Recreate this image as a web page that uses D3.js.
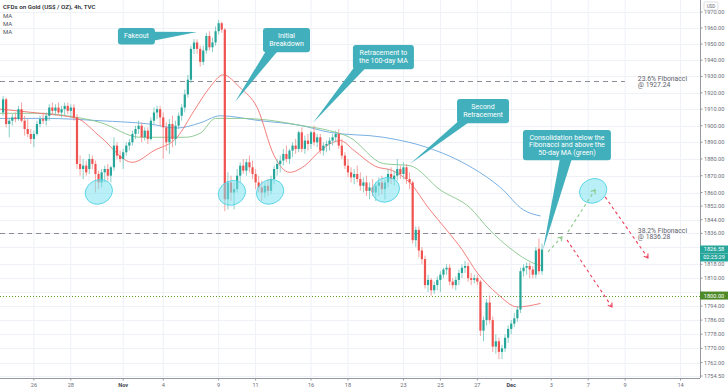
<!DOCTYPE html>
<html>
<head>
<meta charset="utf-8">
<script src="https://cdn.jsdelivr.net/npm/d3@7"></script>
<style>
body { margin: 0; background: #fff; }
svg { display: block; font-family: Roboto, "Liberation Sans", Arial, sans-serif; }
</style>
</head>
<body>
<svg id="chart" width="728" height="391"></svg>
<script>
// 4h candles, [open, high, low, close]
var candles = [
[1908,1918,1906,1916],[1916,1917,1899,1901],[1901,1905,1893,1903],[1903,1907,1900,1905],[1905,1908,1902,1904],
[1904,1912,1903,1910],[1910,1914,1902,1903],[1903,1906,1894,1898],[1898,1904,1893,1895],[1895,1898,1889,1892],
[1892,1897,1887,1895],[1895,1903,1894,1901],[1901,1906,1899,1904],[1904,1908,1901,1903],[1903,1908,1900,1906],
[1906,1913,1903,1911],[1911,1914,1907,1909],[1909,1913,1906,1911],[1911,1914,1907,1908],[1908,1912,1905,1910],
[1910,1914,1906,1912],[1912,1914,1907,1909],[1909,1913,1905,1911],[1911,1913,1903,1905],[1905,1907,1874,1877],
[1877,1882,1870,1874],[1874,1880,1868,1876],[1876,1879,1870,1872],[1874,1883,1871,1880],[1880,1882,1874,1877],
[1877,1879,1860,1871],[1871,1873,1862,1866],[1866,1874,1863,1872],[1872,1876,1866,1874],[1874,1877,1867,1870],
[1870,1876,1866,1875],[1875,1893,1873,1888],[1888,1890,1880,1882],[1882,1885,1878,1880],[1880,1886,1874,1884],
[1884,1890,1882,1888],[1888,1892,1885,1890],[1890,1897,1888,1895],[1895,1900,1892,1898],[1898,1903,1895,1900],
[1900,1902,1890,1893],[1893,1899,1891,1897],[1897,1899,1889,1892],[1892,1905,1891,1903],[1903,1911,1901,1908],
[1908,1912,1904,1910],[1910,1912,1900,1905],[1905,1908,1880,1899],[1899,1902,1885,1890],[1890,1904,1883,1901],
[1901,1906,1887,1892],[1892,1903,1888,1900],[1900,1908,1898,1906],[1906,1913,1903,1911],[1911,1922,1908,1919],
[1919,1931,1917,1928],[1928,1949,1926,1947],[1947,1953,1944,1951],[1951,1953,1944,1947],[1947,1949,1936,1939],
[1939,1949,1937,1946],[1946,1957,1944,1955],[1955,1958,1946,1948],[1948,1954,1945,1951],[1951,1961,1949,1958],
[1958,1965,1956,1963],[1963,1964,1957,1959],[1959,1960,1849,1856],[1856,1872,1850,1866],[1866,1870,1855,1860],
[1860,1866,1850,1862],[1862,1874,1860,1870],[1870,1878,1866,1876],[1876,1880,1871,1873],[1873,1880,1870,1878],
[1878,1882,1872,1875],[1875,1879,1868,1871],[1871,1874,1862,1866],[1866,1870,1860,1863],[1863,1867,1855,1860],
[1860,1866,1857,1864],[1864,1868,1858,1861],[1861,1870,1859,1868],[1868,1876,1865,1874],[1874,1880,1870,1877],
[1877,1882,1872,1879],[1879,1886,1876,1883],[1883,1888,1878,1880],[1880,1886,1877,1885],[1885,1890,1881,1888],
[1888,1892,1883,1886],[1886,1897,1884,1896],[1896,1899,1884,1886],[1886,1894,1883,1891],[1891,1895,1885,1889],
[1889,1897,1886,1896],[1896,1900,1888,1890],[1890,1895,1887,1893],[1893,1895,1883,1885],[1885,1890,1882,1888],
[1888,1891,1884,1889],[1889,1893,1885,1891],[1891,1895,1888,1893],[1893,1897,1890,1895],[1895,1898,1886,1888],
[1888,1892,1880,1882],[1882,1884,1874,1876],[1876,1880,1869,1872],[1872,1875,1866,1869],[1869,1874,1865,1871],
[1871,1876,1866,1868],[1868,1872,1861,1864],[1864,1869,1860,1866],[1866,1870,1858,1861],[1861,1866,1856,1863],
[1863,1868,1858,1860],[1860,1866,1855,1864],[1864,1869,1858,1866],[1866,1870,1859,1862],[1862,1868,1856,1866],
[1866,1874,1863,1871],[1871,1875,1865,1868],[1868,1873,1864,1870],[1870,1880,1867,1874],[1874,1876,1868,1871],
[1871,1878,1868,1875],[1875,1877,1865,1868],[1868,1872,1862,1866],[1866,1867,1830,1832],[1832,1840,1828,1838],
[1838,1840,1822,1826],[1826,1828,1818,1821],[1821,1823,1804,1806],[1806,1812,1802,1809],[1809,1810,1800,1803],
[1803,1808,1801,1806],[1806,1811,1803,1809],[1809,1814,1802,1812],[1812,1816,1810,1815],[1815,1818,1812,1816],
[1816,1818,1806,1808],[1808,1810,1804,1806],[1806,1811,1803,1809],[1809,1815,1806,1813],[1813,1818,1810,1816],
[1816,1820,1813,1817],[1817,1819,1808,1810],[1810,1813,1806,1809],[1809,1812,1807,1810],[1810,1812,1806,1808],
[1808,1809,1777,1780],[1780,1788,1774,1786],[1786,1798,1783,1796],[1796,1800,1784,1786],[1786,1788,1768,1771],
[1771,1778,1767,1774],[1774,1776,1764,1768],[1768,1772,1764,1770],[1770,1778,1768,1776],[1776,1783,1773,1781],
[1781,1786,1778,1784],[1784,1790,1782,1787],[1787,1794,1785,1792],[1792,1816,1790,1814],[1814,1818,1811,1816],
[1816,1819,1812,1817],[1817,1819,1810,1815],[1815,1817,1810,1812],[1812,1828,1810,1826],[1827,1833,1812,1814],
[1814,1830,1812,1826.58]
];

// moving averages, [bar index, price]
var maRed = [[-1,1910],[12,1907.5],[24,1904.4],[31.5,1893.4],[42,1878],[49,1885],[56.5,1893],[62,1909],[67,1923],
  [71.5,1931],[77,1923],[82.5,1911],[88,1882],[93,1872],[98,1876],[103,1885],[109.5,1891],[114,1885],[121,1875.5],
  [126.5,1873],[132,1866],[138.5,1850],[144,1838],[149,1826.6],[154,1813],[160.5,1801],[167,1793.5],[174.5,1795.5]];
var maGreen = [[-1,1907.5],[12,1907.5],[22,1905.6],[31.5,1902],[44.5,1893],[59,1893],[64,1895.4],[69,1904.4],
  [77,1904.4],[87,1903.2],[96.5,1900.2],[106,1897],[112.5,1893],[123.5,1877.2],[132,1876],[142,1861.5],
  [151.6,1851],[158,1838],[164.5,1827.5],[172,1818.8],[175,1817]];
var maBlue = [[-1,1904.4],[14,1904.4],[31.5,1903],[47.5,1901],[56.5,1898.6],[64,1901.7],[70.5,1906],[83.5,1903],
  [96.5,1900.2],[106,1896],[123.5,1893],[137.5,1887],[152.5,1874.5],[161.5,1863],[169,1849.7],[174.5,1846.2]];

var xTickIdx = [10, 22, 39, 52, 70, 82, 100, 112, 130, 142, 154, 165, 178, 190, 202, 220];
var xTickLabels = ["26", "28", "Nov", "4", "9", "11", "16", "18", "23", "25", "27", "Dec", "3", "7", "9", "14"];
var yTicks = [1970, 1960, 1950, 1940, 1930, 1920, 1910, 1900, 1890, 1880, 1870, 1860, 1852, 1844, 1836,
  1828, 1818, 1810, 1802, 1794, 1786, 1778, 1770, 1762, 1754.5];

var fibLevels = [{name: "23.6% Fibonacci", value: 1927.24}, {name: "38.2% Fibonacci", value: 1836.28}];
var fibEnd = 201.9;
var supportLevel = 1800;
var lastPrice = 1826.58;
var countdown = "02:25:29";

var notes = [
  {lines: ["Fakeout"], at: [37.3, 1960], tip: [63, 1957.5], side: "right", pos: 0.5},
  {lines: ["Initial", "Breakdown"], at: [84.4, 1960], tip: [75.3, 1914.4], side: "bottom", pos: 0.2},
  {lines: ["Retracement to", "the 100-day MA"], at: [113.6, 1949.4], tip: [100.6, 1901.6], side: "bottom", pos: 0.12},
  {lines: ["Second", "Retracement"], at: [147.4, 1916.2], tip: [132.1, 1877], side: "bottom", pos: 0.14},
  {lines: ["Consolidation below the", "Fibonacci and above the", "50-day MA (green)"], at: [168.8, 1897.4], tip: [175.3, 1826.3], side: "bottom", pos: 0.49}
];
var circles = [[31.1, 1860.4], [74.3, 1859.8], [86.7, 1860.4], [124.3, 1861.6], [191.6, 1861]];
var arrows = [
  {from: [176.9, 1825.2], to: [181.5, 1833.9], up: true},
  {from: [183.4, 1836.8], to: [192.2, 1861.6], up: true},
  {from: [183.1, 1832.2], to: [197.7, 1793.5], up: false},
  {from: [195.5, 1857.4], to: [209.4, 1821.7], up: false}
];

var plotRight = 700, plotBottom = 378;
var svg = d3.select("#chart");

var x = d3.scaleLinear().domain([-1, 226.3]).range([0, plotRight]);
var y = d3.scaleLog().domain([1754.5, 1960]).range([376, 28]);

// grid
svg.append("g").selectAll("line").data(xTickIdx).enter().append("line")
  .attr("x1", function(d) { return x(d); }).attr("x2", function(d) { return x(d); })
  .attr("y1", 0).attr("y2", plotBottom)
  .attr("stroke", "#eef1f6").attr("stroke-width", 1);
svg.append("g").selectAll("line").data(yTicks).enter().append("line")
  .attr("x1", 0).attr("x2", plotRight)
  .attr("y1", function(d) { return Math.round(y(d)) + 0.5; }).attr("y2", function(d) { return Math.round(y(d)) + 0.5; })
  .attr("stroke", "#eef1f6").attr("stroke-width", 1);

// fibonacci levels
fibLevels.forEach(function(f) {
  var yy = Math.round(y(f.value)) + 0.5;
  svg.append("line").attr("x1", 0).attr("x2", x(fibEnd)).attr("y1", yy).attr("y2", yy)
    .attr("stroke", "#8a8d96").attr("stroke-width", 1).attr("stroke-dasharray", "5,4");
  var t = svg.append("text").attr("x", x(fibEnd) + 13).attr("y", yy - 1)
    .attr("font-size", 6.8).attr("fill", "#5d606b");
  t.append("tspan").text(f.name);
  t.append("tspan").attr("x", x(fibEnd) + 13).attr("dy", 6.8).text("@ " + f.value.toFixed(2));
});

// 1800 support
svg.append("line").attr("x1", 0).attr("x2", plotRight)
  .attr("y1", Math.round(y(supportLevel)) + 0.5).attr("y2", Math.round(y(supportLevel)) + 0.5)
  .attr("stroke", "#5b9b33").attr("stroke-width", 1).attr("stroke-dasharray", "1,2");

// moving averages
var line = d3.line().x(function(d) { return x(d[0]); }).y(function(d) { return y(d[1]); }).curve(d3.curveMonotoneX);
[[maBlue, "#6aa7e0"], [maGreen, "#86c68a"], [maRed, "#f0706c"]].forEach(function(m) {
  svg.append("path").datum(m[0]).attr("d", line)
    .attr("fill", "none").attr("stroke", m[1]).attr("stroke-width", 0.9);
});

// candles
var cg = svg.append("g");
cg.selectAll("line").data(candles).enter().append("line")
  .attr("x1", function(d, i) { return x(i); }).attr("x2", function(d, i) { return x(i); })
  .attr("y1", function(d) { return y(d[1]); }).attr("y2", function(d) { return y(d[2]); })
  .attr("stroke", function(d) { return d[3] >= d[0] ? "#6cc3ba" : "#f28e8c"; })
  .attr("stroke-width", 0.8);
cg.selectAll("rect").data(candles).enter().append("rect")
  .attr("x", function(d, i) { return x(i) - 1.1; })
  .attr("width", 2.2)
  .attr("y", function(d) { return y(Math.max(d[0], d[3])); })
  .attr("height", function(d) { return Math.max(0.8, Math.abs(y(d[0]) - y(d[3]))); })
  .attr("fill", function(d) { return d[3] >= d[0] ? "#26a69a" : "#ef5350"; });

// highlight ellipses
svg.append("g").selectAll("ellipse").data(circles).enter().append("ellipse")
  .attr("cx", function(d) { return x(d[0]); }).attr("cy", function(d) { return y(d[1]); })
  .attr("rx", 14).attr("ry", 12)
  .attr("transform", function(d) { return "rotate(-25," + x(d[0]) + "," + y(d[1]) + ")"; })
  .attr("fill", "#80e2ef").attr("fill-opacity", 0.55)
  .attr("stroke", "#4fd2e4").attr("stroke-width", 0.8);

// projection arrows
arrows.forEach(function(a) {
  var x1 = x(a.from[0]), y1 = y(a.from[1]), x2 = x(a.to[0]), y2 = y(a.to[1]);
  var col = a.up ? "#8cc98c" : "#ec3f5c";
  svg.append("line").attr("x1", x1).attr("y1", y1).attr("x2", x2).attr("y2", y2)
    .attr("stroke", col).attr("stroke-width", 1.1).attr("stroke-dasharray", "3,3");
  var ang = Math.atan2(y2 - y1, x2 - x1), s = 4.5;
  svg.append("path")
    .attr("d", "M" + (x2 - s * Math.cos(ang - 0.6)) + "," + (y2 - s * Math.sin(ang - 0.6)) +
      "L" + x2 + "," + y2 + "L" + (x2 - s * Math.cos(ang + 0.6)) + "," + (y2 - s * Math.sin(ang + 0.6)))
    .attr("fill", "none").attr("stroke", col).attr("stroke-width", 1.1);
});

// callouts
var teal = "#41b0bc";
notes.forEach(function(n) {
  var g = svg.append("g");
  var bx = x(n.at[0]), by = y(n.at[1]);
  var txt = g.append("text").attr("font-size", 7).attr("fill", "#fff").attr("text-anchor", "middle");
  n.lines.forEach(function(l, k) { txt.append("tspan").attr("dy", k ? 7.6 : 0).text(l); });
  var w = 0;
  txt.selectAll("tspan").each(function() { w = Math.max(w, this.getComputedTextLength()); });
  w = Math.round(w + 12);
  var h = n.lines.length * 7.6 + (n.lines.length > 2 ? 7.5 : 9);
  var tx = x(n.tip[0]), ty = y(n.tip[1]), base;
  if (n.side == "right") {
    base = [[bx + w - 2, by + h * n.pos - 4.5], [bx + w - 2, by + h * n.pos + 4.5]];
  } else {
    base = [[bx + w * n.pos - 6, by + h - 2], [bx + w * n.pos + 6, by + h - 2]];
  }
  g.insert("path", "text").attr("d", "M" + base[0] + "L" + tx + "," + ty + "L" + base[1] + "Z").attr("fill", teal);
  g.insert("rect", "text").attr("x", bx).attr("y", by).attr("width", w).attr("height", h).attr("rx", 3).attr("fill", teal);
  txt.attr("transform", "translate(" + (bx + w / 2) + "," + (by + (h - n.lines.length * 7.6) / 2 + 5.8) + ")");
  txt.selectAll("tspan").attr("x", 0);
});

// price tags sit over the axis, ticks underneath them keep only their tick mark
var ly = y(lastPrice), sy = y(supportLevel);
function underTag(v) {
  var p = y(v);
  return (p > ly - 5 && p < ly + 12) || Math.abs(p - sy) < 5;
}

// axes
var ax = svg.append("g").attr("transform", "translate(" + plotRight + ",0)");
ax.append("line").attr("x1", 0.5).attr("x2", 0.5).attr("y1", 0).attr("y2", plotBottom).attr("stroke", "#9598a1");
ax.selectAll("g").data(yTicks).enter().append("g")
  .attr("transform", function(d) { return "translate(0," + y(d) + ")"; })
  .each(function(d) {
    var g = d3.select(this);
    g.append("line").attr("x1", 0.5).attr("x2", 2.5).attr("stroke", "#9598a1");
    if (underTag(d)) return;
    g.append("text").attr("x", 4).attr("dy", "0.35em").attr("font-size", 5.6).attr("fill", "#6a6d78")
      .text(d3.format(".2f")(d));
  });

var bx = svg.append("g").attr("transform", "translate(0," + plotBottom + ")");
bx.append("line").attr("x1", 0).attr("x2", plotRight).attr("y1", 0.5).attr("y2", 0.5).attr("stroke", "#9598a1");
bx.selectAll("g").data(xTickIdx).enter().append("g")
  .attr("transform", function(d) { return "translate(" + x(d) + ",0)"; })
  .each(function(d, i) {
    var g = d3.select(this), lab = xTickLabels[i], big = isNaN(+lab);
    g.append("line").attr("y1", 0.5).attr("y2", 2.5).attr("stroke", "#9598a1");
    g.append("text").attr("y", 9).attr("text-anchor", "middle").attr("font-size", 5.6)
      .attr("font-weight", big ? "bold" : "normal").attr("fill", big ? "#434651" : "#6a6d78").text(lab);
  });

function tag(yy, h, col, label) {
  svg.append("rect").attr("x", plotRight).attr("y", yy).attr("width", 28).attr("height", h).attr("fill", col);
  svg.append("text").attr("x", plotRight + 14).attr("y", yy + h / 2).attr("dy", "0.35em")
    .attr("text-anchor", "middle").attr("font-size", 5.6).attr("fill", "#fff").text(label);
}
tag(ly - 4, 8, "#26a69a", lastPrice.toFixed(2));
tag(ly + 4, 8, "#26a69a", countdown);
tag(sy - 4, 8, "#4e8a27", supportLevel.toFixed(2));

svg.append("rect").attr("x", 704).attr("y", 2).attr("width", 14).attr("height", 8).attr("fill", "#fff")
  .attr("stroke", "#c8cad0").attr("stroke-width", 0.6).attr("rx", 1);
svg.append("text").attr("x", 711).attr("y", 8).attr("text-anchor", "middle").attr("font-size", 4.6)
  .attr("fill", "#6a6d78").text("USD");

// legend
svg.append("text").attr("x", 3).attr("y", 9).attr("font-size", 6.2).attr("font-weight", 500)
  .attr("fill", "#131722").text("CFDs on Gold (US$ / OZ), 4h, TVC");
["MA", "MA", "MA"].forEach(function(m, k) {
  svg.append("text").attr("x", 3).attr("y", 17.5 + k * 8.3).attr("font-size", 6).attr("fill", "#50535e").text(m);
});
</script>
</body>
</html>
